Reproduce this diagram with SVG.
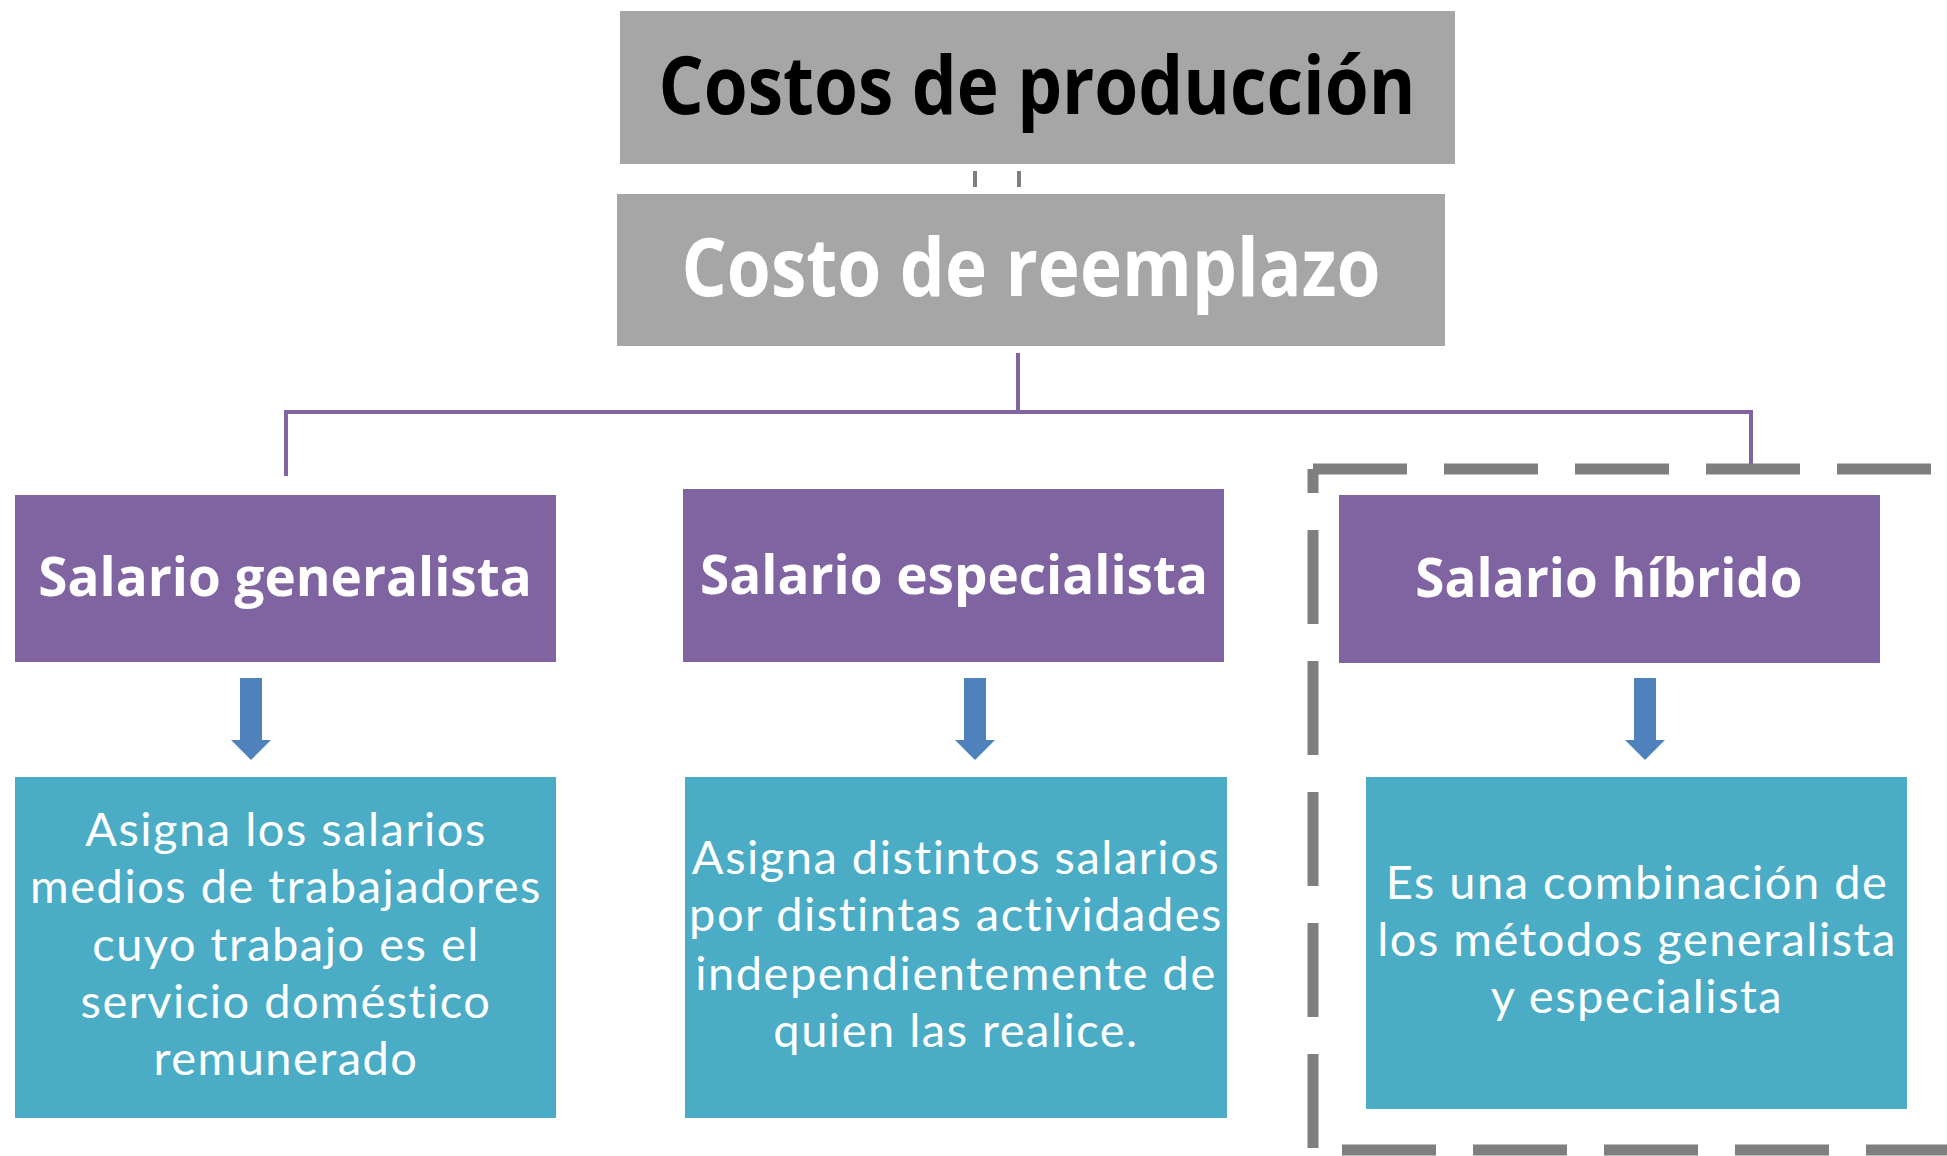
<svg xmlns="http://www.w3.org/2000/svg" width="1947" height="1156" viewBox="0 0 1947 1156">
<defs>
<style>
.gray{fill:#A6A6A6}
.purple{fill:#8064A2}
.teal{fill:#4BACC6}
.arrow{fill:#4F81BD}
.h{font-family:"Open Sans","Liberation Sans",sans-serif;font-weight:bold;text-anchor:middle}
.b{font-family:Lato,"Liberation Sans",sans-serif;font-size:47px;letter-spacing:1.5px;fill:#fff;text-anchor:middle}
.conn{fill:none;stroke:#8064A2;stroke-width:4}
.dash{fill:none;stroke:#7F7F7F;stroke-width:11;stroke-dasharray:94 37}
.tick{stroke:#7F7F7F;stroke-width:4}
</style>
</defs>
<rect width="1947" height="1156" fill="#fff"/>
<g id="connectors">
<line class="tick" x1="975" y1="171" x2="975" y2="187"/>
<line class="tick" x1="1019" y1="171" x2="1019" y2="187"/>
<path class="conn" d="M1018,353 V412 M286,476 V412 H1751 V470"/>
</g>
<g id="hybrid-frame">
<path class="dash" d="M1313,469 H1960"/>
<path class="dash" d="M1313,469 V1152" stroke-dashoffset="70"/>
<path class="dash" d="M1342,1150 H1960"/>
</g>
<g id="costos-produccion">
<rect class="gray" x="620" y="11" width="835" height="153"/>
<text class="h" x="1037" y="114" font-size="80" fill="#000" textLength="757" lengthAdjust="spacingAndGlyphs">Costos de producción</text>
</g>
<g id="costo-reemplazo">
<rect class="gray" x="617" y="194" width="828" height="152"/>
<text class="h" x="1031" y="296" font-size="80" fill="#fff" textLength="699" lengthAdjust="spacingAndGlyphs">Costo de reemplazo</text>
</g>
<g id="salario-generalista">
<rect class="purple" x="15" y="495" width="541" height="167"/>
<text class="h" x="285" y="596" font-size="53" fill="#fff">Salario generalista</text>
</g>
<g id="salario-especialista">
<rect class="purple" x="683" y="489" width="541" height="173"/>
<text class="h" x="954" y="594" font-size="53" fill="#fff">Salario especialista</text>
</g>
<g id="salario-hibrido">
<rect class="purple" x="1339" y="495" width="541" height="168"/>
<text class="h" x="1609" y="597" font-size="53" fill="#fff">Salario híbrido</text>
</g>
<g id="arrow-1"><path class="arrow" d="M240,678 H262 V740 H271 L251,760 L231,740 H240 Z"/></g>
<g id="arrow-2"><path class="arrow" d="M964,678 H986 V740 H995 L975,760 L955,740 H964 Z"/></g>
<g id="arrow-3"><path class="arrow" d="M1634,678 H1656 V740 H1665 L1645,760 L1625,740 H1634 Z"/></g>
<g id="desc-generalista">
<rect class="teal" x="15" y="777" width="541" height="341"/>
<text class="b"><tspan x="286" y="846">Asigna los salarios</tspan><tspan x="286" y="903">medios de trabajadores</tspan><tspan x="286" y="961">cuyo trabajo es el</tspan><tspan x="286" y="1018">servicio doméstico</tspan><tspan x="286" y="1075">remunerado</tspan></text>
</g>
<g id="desc-especialista">
<rect class="teal" x="685" y="777" width="542" height="341"/>
<text class="b"><tspan x="956" y="874">Asigna distintos salarios</tspan><tspan x="956" y="931">por distintas actividades</tspan><tspan x="956" y="990">independientemente de</tspan><tspan x="956" y="1047">quien las realice.</tspan></text>
</g>
<g id="desc-hibrido">
<rect class="teal" x="1366" y="777" width="541" height="332"/>
<text class="b"><tspan x="1637" y="899">Es una combinación de</tspan><tspan x="1637" y="956">los métodos generalista</tspan><tspan x="1637" y="1013">y especialista</tspan></text>
</g>
</svg>
